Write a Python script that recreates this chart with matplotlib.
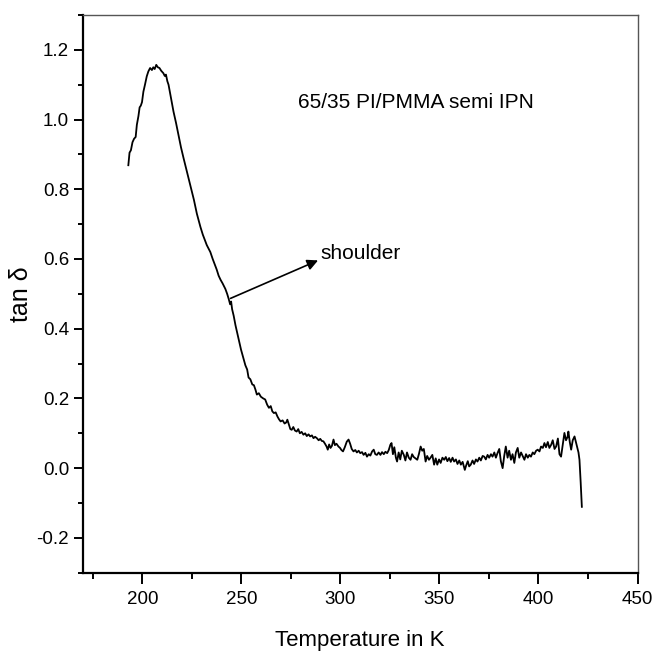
import matplotlib
matplotlib.use("Agg")
import matplotlib.pyplot as plt
from matplotlib.ticker import MultipleLocator

plt.rcParams['font.family'] = ['Liberation Sans', 'DejaVu Sans']

temperature = [
    192.9, 193.5, 194.2, 195.0, 195.8, 196.6, 197.2, 198.0, 198.6, 199.2,
    199.8, 200.5, 201.3, 202.2, 203.0, 203.9, 204.8, 205.5, 206.2, 207.0,
    207.8, 208.6, 209.5, 210.6, 211.3, 211.9, 212.6, 213.2, 214.5, 215.7,
    217.0, 218.2, 219.5, 220.8, 222.5, 224.2, 226.0, 227.5, 229.3, 230.5,
    231.5, 232.5, 234.3, 235.5, 236.5, 237.5, 238.5, 239.5, 240.5, 241.9,
    242.8, 243.6, 244.3, 244.8, 245.3, 246.1, 247.0, 248.6, 249.8, 251.0,
    252.0, 252.9, 253.6, 254.5, 255.5, 256.3, 257.1, 257.8, 258.8, 259.8,
    261.0, 262.0, 263.0, 263.9, 264.8, 265.6, 266.4, 267.3, 268.2, 269.0,
    269.8, 270.8, 271.8, 272.6, 273.2, 274.0, 274.7, 275.4, 276.2, 277.0,
    277.9, 278.7, 279.5, 280.4, 281.3, 282.2, 283.0, 283.9, 284.7, 285.6,
    286.4, 287.2, 288.1, 289.0, 289.8, 290.6, 291.4, 292.2, 293.0, 293.6,
    294.3, 295.0, 295.7, 296.5, 297.2, 298.0, 299.0, 299.8, 300.5, 301.3,
    302.2, 303.2, 304.1, 304.9, 305.7, 306.6, 307.5, 308.3, 309.2, 310.0,
    310.9, 311.7, 312.6, 313.4, 314.3, 315.1, 316.0, 316.8, 317.6, 318.4,
    319.3, 320.2, 321.0, 321.9, 322.7, 323.6, 324.4, 325.2, 325.8, 326.5,
    327.2, 328.0, 328.6, 329.4, 330.2, 331.0, 332.0, 332.8, 333.6, 334.5,
    335.4, 336.2, 337.0, 337.9, 338.8, 339.6, 340.5, 341.3, 342.1, 343.0,
    343.8, 344.7, 345.5, 346.4, 347.3, 348.1, 348.9, 349.8, 350.6, 351.5,
    352.4, 353.2, 354.0, 354.9, 355.7, 356.6, 357.4, 358.3, 359.1, 360.0,
    360.8, 361.7, 362.8, 363.5, 364.3, 365.0, 365.8, 366.7, 367.5, 368.4,
    369.2, 370.1, 370.9, 371.8, 372.6, 373.4, 374.3, 375.1, 376.0, 376.8,
    377.7, 378.5, 379.3, 380.2, 381.0, 381.9, 382.7, 383.5, 384.4, 385.2,
    386.1, 386.9, 387.8, 388.6, 389.5, 390.3, 391.2, 392.0, 392.9, 393.7,
    394.6, 395.4, 396.2, 397.1, 397.9, 398.8, 399.6, 400.5, 401.3, 402.2,
    403.0, 403.8, 404.7, 405.5, 406.4, 407.2, 408.1, 408.9, 409.8, 410.6,
    411.4, 412.3, 413.1, 413.9, 414.7, 415.1, 415.8, 416.5, 417.3, 418.2,
    418.9, 419.5, 420.2, 420.7, 421.3, 421.9,
]

tan_delta = [
    0.869, 0.905, 0.912, 0.935, 0.945, 0.950, 0.985, 1.010, 1.035, 1.040,
    1.050, 1.080, 1.100, 1.124, 1.138, 1.148, 1.142, 1.150, 1.145, 1.157,
    1.150, 1.148, 1.140, 1.133, 1.125, 1.129, 1.110, 1.100, 1.060, 1.023,
    0.990, 0.956, 0.920, 0.889, 0.850, 0.812, 0.770, 0.730, 0.692, 0.670,
    0.655, 0.640, 0.620, 0.600, 0.585, 0.570, 0.552, 0.540, 0.530, 0.514,
    0.500, 0.485, 0.470, 0.478, 0.456, 0.437, 0.410, 0.370, 0.340, 0.315,
    0.295, 0.283, 0.260, 0.255, 0.240, 0.238, 0.225, 0.211, 0.215, 0.205,
    0.200, 0.197, 0.182, 0.173, 0.178, 0.163, 0.158, 0.160, 0.148, 0.140,
    0.134, 0.137, 0.128, 0.131, 0.139, 0.125, 0.112, 0.110, 0.118, 0.108,
    0.105, 0.112, 0.100, 0.104, 0.096, 0.100, 0.092, 0.097, 0.091, 0.094,
    0.086, 0.090, 0.086, 0.080, 0.084, 0.078, 0.077, 0.070, 0.062, 0.053,
    0.068, 0.058, 0.064, 0.082, 0.066, 0.070, 0.062, 0.058, 0.052, 0.048,
    0.060, 0.076, 0.082, 0.070, 0.055, 0.048, 0.052, 0.045, 0.050, 0.043,
    0.046, 0.038, 0.044, 0.033, 0.040, 0.036, 0.048, 0.053, 0.040, 0.038,
    0.045, 0.038, 0.046, 0.040, 0.047, 0.043, 0.052, 0.067, 0.072, 0.040,
    0.060, 0.030, 0.019, 0.045, 0.025, 0.050, 0.038, 0.022, 0.045, 0.030,
    0.024, 0.040, 0.032, 0.028, 0.024, 0.040, 0.062, 0.050, 0.055, 0.019,
    0.035, 0.024, 0.030, 0.038, 0.010, 0.028, 0.010, 0.025, 0.015, 0.030,
    0.024, 0.032, 0.020, 0.029, 0.018, 0.030, 0.019, 0.025, 0.012, 0.022,
    0.010, 0.018, -0.005, 0.008, 0.020, 0.005, 0.010, 0.022, 0.012, 0.025,
    0.019, 0.030, 0.022, 0.035, 0.033, 0.025, 0.038, 0.030, 0.040, 0.033,
    0.045, 0.030, 0.043, 0.055, 0.020, 0.000, 0.035, 0.062, 0.030, 0.050,
    0.024, 0.040, 0.015, 0.045, 0.058, 0.030, 0.045, 0.035, 0.024, 0.040,
    0.030, 0.038, 0.033, 0.045, 0.040, 0.050, 0.053, 0.048, 0.062, 0.058,
    0.072, 0.060, 0.075, 0.058, 0.067, 0.080, 0.055, 0.062, 0.085, 0.040,
    0.033, 0.070, 0.101, 0.080, 0.090, 0.105, 0.075, 0.053, 0.080, 0.091,
    0.075, 0.062, 0.045, 0.024, -0.040, -0.111,
]

x_label = "Temperature in K"
y_label = "tan \u03b4"
sample_label = "65/35 PI/PMMA semi IPN"
shoulder_label = "shoulder"
shoulder_from = (244.5, 0.487)
shoulder_to = (288.7, 0.596)

fig = plt.figure(figsize=(6.56, 6.52), dpi=100)
ax = fig.add_axes([0.1265, 0.1216, 0.8453, 0.8554])

ax.plot(temperature, tan_delta, color='black', lw=1.3)

ax.set_xlim(170, 450)
ax.set_ylim(-0.3, 1.3)
ax.xaxis.set_minor_locator(MultipleLocator(25))
ax.yaxis.set_minor_locator(MultipleLocator(0.1))
ax.set_xticks([200, 250, 300, 350, 400, 450])
ax.set_yticks([-0.2, 0.0, 0.2, 0.4, 0.6, 0.8, 1.0, 1.2])
ax.set_yticklabels(['-0.2', '0.0', '0.2', '0.4', '0.6', '0.8', '1.0', '1.2'])

ax.tick_params(axis='both', which='both', direction='out', width=1.4,
               labelsize=13.5, colors='black')
ax.tick_params(axis='x', which='major', length=8, pad=5)
ax.tick_params(axis='x', which='minor', length=4.5)
ax.tick_params(axis='y', which='major', length=6.5, pad=3.5)
ax.tick_params(axis='y', which='minor', length=3.5)

for side in ['left', 'bottom']:
    ax.spines[side].set_linewidth(1.6)
    ax.spines[side].set_color('black')
for side in ['top', 'right']:
    ax.spines[side].set_linewidth(1.0)
    ax.spines[side].set_color('#555555')

ax.set_xlabel(x_label, fontsize=16)
ax.xaxis.label.set_va('center')
ax.xaxis.set_label_coords(0.5, -0.122)
ax.set_ylabel(y_label, fontsize=18)
ax.yaxis.label.set_va('center')
ax.yaxis.set_label_coords(-0.112, 0.5)

ax.text(278.4, 1.033, sample_label, fontsize=15, ha='left', va='baseline')
ax.text(290.0, 0.600, shoulder_label, fontsize=15, ha='left', va='baseline')
ax.annotate('', xy=shoulder_to, xytext=shoulder_from,
            arrowprops=dict(arrowstyle='-|>', color='black', lw=1.2,
                            mutation_scale=16, shrinkA=0, shrinkB=0))

fig.savefig('out.png', dpi=100)
